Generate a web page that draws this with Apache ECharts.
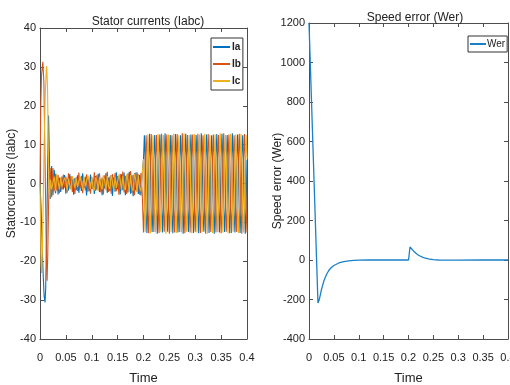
<!DOCTYPE html>
<html>
<head>
<meta charset="utf-8">
<script src="https://cdn.jsdelivr.net/npm/echarts@6/dist/echarts.min.js"></script>
<style>
  html, body { margin: 0; padding: 0; background: #fff; }
  #chart { width: 510px; height: 385px; }
</style>
</head>
<body>
<div id="chart"></div>
<script>
// x tick labels (shared by both plots)
const timeTicks = [0, 0.05, 0.1, 0.15, 0.2, 0.25, 0.3, 0.35, 0.4];

// start-up transient, [time, current]
const iaStart = [[0, 0], [0.002, -6], [0.004, -15], [0.006, -23], [0.008, -29], [0.0097, -30.6],
  [0.011, -27], [0.013, -12], [0.015, 6], [0.0165, 17.5], [0.018, 8], [0.0195, -3]];
const ibStart = [[0, 0], [0.0015, 20], [0.003, 28], [0.0055, 31.3], [0.0075, 26], [0.009, 12],
  [0.011, -6], [0.0125, -20], [0.0137, -25], [0.015, -18], [0.0165, -6], [0.018, 2], [0.0195, 4]];
const icStart = [[0, 0], [0.001, -10], [0.002, -20], [0.003, -23], [0.0045, -18], [0.006, -6],
  [0.008, 10], [0.01, 22], [0.012, 29], [0.013, 30.2], [0.0145, 25], [0.016, 10], [0.0175, -2],
  [0.019, -4]];

// low-load ripple, sampled every rippleStep from rippleStart
const rippleStart = 0.02;
const rippleStep = 0.0025;
const iaRipple = [-4, 4.5, -3, 3.5, -2.5, 2, -2.8, 1.5, -2.2, 1.8,
  -1.5, 2.2, -2.6, 1.2, -1.8, 2.4, -1.2, 1.6, -2.9, 1.4,
  -1.7, 2.1, -2.4, 0.8, -1.9, 2.6, -1.1, 1.7, -3.1, 1.3,
  -2.0, 2.3, -1.4, 1.0, -2.7, 1.9, -1.6, 2.5, -2.2, 1.1,
  -3.0, 1.8, -1.3, 2.7, -2.4, 1.5, -1.9, 2.2, -3.2, 1.6,
  -2.1, 2.9, -1.5, 1.9, -2.8, 2.4, -1.7, 2.8, -3.0, 1.7,
  -2.3, 3.0, -2.6, 2.1, -3.3, 2.6, -1.8, 2.9, -2.7, 2.2, -3.1, 2.5];
const ibRipple = [3, -3.5, 4, -2, 2.5, -1.8, 2.2, -2.5, 1.4, -1.6,
  2.3, -1.1, 1.8, -2.4, 2.6, -1.3, 1.9, -2.2, 1.2, -2.7,
  1.6, -1.9, 2.8, -1.2, 2.0, -2.5, 1.4, -1.8, 2.4, -2.1,
  1.1, -2.6, 1.7, -1.5, 2.9, -1.9, 2.2, -1.2, 2.6, -2.3,
  1.5, -2.8, 2.1, -1.6, 3.0, -2.2, 1.8, -2.6, 2.4, -1.4,
  2.7, -2.0, 1.9, -2.9, 2.5, -1.7, 3.1, -2.3, 2.0, -2.7,
  2.6, -1.8, 3.2, -2.5, 2.2, -3.0, 2.8, -2.1, 2.4, -2.9, 2.7, -2.4];
const icRipple = [1, -1.5, -1, 1.8, -2, 2.5, 0.5, -1.5, 1.6, -0.8,
  -1.2, 1.5, 0.6, -1.8, 1.3, -0.5, -1.6, 1.9, 0.8, -1.2,
  1.4, -0.9, -1.3, 1.7, 0.4, -1.6, 1.8, -0.7, -1.1, 2.0,
  0.9, -1.4, 1.5, -1.0, -1.8, 1.6, 0.6, -1.9, 1.7, -0.6,
  -1.5, 2.1, 0.7, -1.7, 1.9, -0.8, -1.4, 2.2, 0.5, -2.0,
  1.8, -1.1, -1.6, 2.3, 0.9, -1.8, 2.0, -0.9, -1.7, 2.4,
  0.8, -2.1, 2.2, -1.2, -1.9, 2.5, 1.0, -2.2, 2.1, -1.0, -2.0, 2.3];

// loaded operation after 0.2 s, sampled every steadyStep
const steadyStart = 0.2;
const steadyStep = 0.01 / 6;
const iaSteady = [6.1, 12.4, 6.3, -6.2, -12.7, -6.0, 6.3, 12.8, 6.0, -6.4, -12.5, -6.3,
  6.0, 12.5, 6.2, -6.1, -12.9, -6.2, 6.4, 12.6, 6.1, -6.3, -12.6, -6.0,
  6.2, 12.9, 6.3, -6.0, -12.4, -6.4, 6.1, 12.5, 6.0, -6.2, -12.8, -6.1,
  6.3, 12.7, 6.4, -6.3, -12.6, -6.2, 6.0, 12.4, 6.1, -6.1, -12.9, -6.3,
  6.2, 12.8, 6.2, -6.4, -12.5, -6.0, 6.4, 12.6, 6.0, -6.2, -12.7, -6.2,
  6.1, 12.5, 6.3, -6.0, -12.8, -6.4, 6.3, 12.9, 6.1, -6.3, -12.4, -6.1,
  6.0, 12.6, 6.2, -6.1, -12.7, -6.3, 6.2, 12.4, 6.4, -6.4, -12.9, -6.0,
  6.4, 12.7, 6.0, -6.2, -12.6, -6.2, 6.1, 12.8, 6.3, -6.0, -12.5, -6.4,
  6.3, 12.5, 6.1, -6.3, -12.8, -6.1, 6.0, 12.9, 6.2, -6.1, -12.6, -6.3,
  6.2, 12.6, 6.4, -6.4, -12.7, -6.0, 6.4, 12.4, 6.0, -6.2, -12.9, -6.2];
const ibSteady = [-12.6, -6.1, 6.3, 12.4, 6.2, -6.3, -12.8, -6.3, 6.0, 12.7, 6.1, -6.0,
  -12.5, -6.2, 6.2, 12.5, 6.4, -6.1, -12.7, -6.0, 6.1, 12.8, 6.0, -6.4,
  -12.4, -6.4, 6.3, 12.6, 6.2, -6.2, -12.9, -6.1, 6.0, 12.4, 6.3, -6.0,
  -12.6, -6.3, 6.4, 12.7, 6.1, -6.3, -12.5, -6.0, 6.2, 12.9, 6.0, -6.1,
  -12.8, -6.2, 6.1, 12.5, 6.4, -6.4, -12.6, -6.4, 6.3, 12.6, 6.2, -6.2,
  -12.4, -6.1, 6.0, 12.8, 6.3, -6.0, -12.7, -6.3, 6.2, 12.4, 6.1, -6.3,
  -12.9, -6.0, 6.4, 12.7, 6.0, -6.1, -12.5, -6.2, 6.1, 12.6, 6.4, -6.4,
  -12.6, -6.4, 6.3, 12.5, 6.2, -6.2, -12.8, -6.1, 6.0, 12.9, 6.3, -6.0,
  -12.4, -6.3, 6.2, 12.6, 6.1, -6.3, -12.7, -6.0, 6.4, 12.4, 6.0, -6.1,
  -12.5, -6.2, 6.1, 12.8, 6.4, -6.4, -12.9, -6.4, 6.3, 12.7, 6.2, -6.2];
const icSteady = [6.3, -6.2, -12.5, -6.1, 6.0, 12.6, 6.1, -6.4, -12.8, -6.0, 6.3, 12.4,
  6.2, -6.1, -12.6, -6.3, 6.1, 12.7, 6.0, -6.3, -12.4, -6.2, 6.4, 12.5,
  6.4, -6.0, -12.9, -6.1, 6.2, 12.6, 6.1, -6.2, -12.5, -6.4, 6.0, 12.8,
  6.3, -6.3, -12.7, -6.0, 6.1, 12.4, 6.0, -6.1, -12.6, -6.2, 6.3, 12.9,
  6.2, -6.4, -12.4, -6.3, 6.4, 12.5, 6.4, -6.2, -12.8, -6.1, 6.0, 12.7,
  6.1, -6.0, -12.6, -6.4, 6.2, 12.6, 6.3, -6.3, -12.5, -6.0, 6.1, 12.8,
  6.0, -6.2, -12.9, -6.2, 6.4, 12.4, 6.2, -6.1, -12.7, -6.3, 6.0, 12.6,
  6.4, -6.4, -12.5, -6.1, 6.3, 12.9, 6.1, -6.0, -12.6, -6.4, 6.2, 12.5,
  6.3, -6.3, -12.8, -6.2, 6.0, 12.7, 6.0, -6.2, -12.4, -6.0, 6.4, 12.6,
  6.2, -6.1, -12.7, -6.3, 6.1, 12.8, 6.4, -6.4, -12.6, -6.1, 6.3, 12.5];

// speed error, [time, rad/s]
const werPoints = [[0, 1200], [0.018, -218], [0.02, -205], [0.022, -185], [0.025, -150],
  [0.03, -105], [0.035, -75], [0.04, -52], [0.045, -38], [0.05, -28], [0.06, -15], [0.07, -8],
  [0.08, -4], [0.09, -2], [0.1, -1], [0.12, 0], [0.15, 0], [0.2, 0], [0.201, 20], [0.203, 66],
  [0.206, 58], [0.21, 46], [0.215, 34], [0.22, 24], [0.23, 12], [0.24, 6], [0.25, 2],
  [0.26, 0], [0.3, -1], [0.35, 0], [0.4, 0]];

const phaseNames = ["Ia", "Ib", "Ic"];
const phaseColors = ["#0072BD", "#D95319", "#EDB120"];

// no condensed face here, so the squeezed MATLAB text is approximated with smaller sizes
const narrow = "'Liberation Sans Narrow', 'Liberation Sans', sans-serif";
const regular = "'Liberation Sans', Arial, sans-serif";
const ink = "#222";

// stitch the three pieces of one phase onto the time axis
function buildPhase(start, ripple, steady) {
  const pts = start.slice();
  ripple.forEach((v, i) => pts.push([rippleStart + i * rippleStep, v]));
  steady.forEach((v, i) => pts.push([steadyStart + i * steadyStep, v]));
  pts.push([0.4, steady[0]]);
  return pts;
}

const phases = [
  buildPhase(iaStart, iaRipple, iaSteady),
  buildPhase(ibStart, ibRipple, ibSteady),
  buildPhase(icStart, icRipple, icSteady),
];

function fmtTime(v) {
  return String(+v.toFixed(2));
}

function xAxes(gridIndex) {
  const base = {
    gridIndex,
    type: "value",
    min: timeTicks[0],
    max: timeTicks[timeTicks.length - 1],
    interval: 0.05,
    splitLine: { show: false },
    axisLine: { show: true, onZero: false, lineStyle: { color: "#4d4d4d", width: 1 } },
    axisTick: { inside: true, length: 4, lineStyle: { color: "#4d4d4d" } },
  };
  return [
    {
      ...base,
      position: "bottom",
      name: "Time",
      nameLocation: "middle",
      nameGap: 33,
      nameMoveOverlap: false,
      nameTextStyle: { fontFamily: narrow, fontSize: 13, color: ink },
      axisLabel: { margin: 13, fontFamily: narrow, fontSize: 11, color: ink, formatter: fmtTime },
    },
    { ...base, position: "top", axisLabel: { show: false } },
  ];
}

function yAxes(gridIndex, min, max, interval, name, gap) {
  const base = {
    gridIndex,
    type: "value",
    min,
    max,
    interval,
    splitLine: { show: false },
    axisLine: { show: true, onZero: false, lineStyle: { color: "#4d4d4d", width: 1 } },
    axisTick: { inside: true, length: 4, lineStyle: { color: "#4d4d4d" } },
  };
  return [
    {
      ...base,
      position: "left",
      name,
      nameLocation: "middle",
      nameGap: gap,
      nameMoveOverlap: false,
      nameTextStyle: { fontFamily: regular, fontSize: 12, color: ink },
      axisLabel: { margin: 4, fontFamily: narrow, fontSize: 11, color: ink, formatter: (v) => String(v) },
    },
    { ...base, position: "right", axisLabel: { show: false } },
  ];
}

const chart = echarts.init(document.getElementById("chart"), null, { renderer: "canvas" });

chart.setOption({
  animation: false,
  backgroundColor: "#fff",
  title: [
    {
      text: "Stator currents (Iabc)",
      left: 143, top: 11, textAlign: "center",
      textStyle: { fontFamily: narrow, fontSize: 12, fontWeight: "normal", color: ink },
    },
    {
      text: "Speed error (Wer)",
      left: 410, top: 7, textAlign: "center",
      textStyle: { fontFamily: narrow, fontSize: 12, fontWeight: "normal", color: ink },
    },
  ],
  legend: [
    {
      data: phaseNames,
      orient: "vertical",
      left: 211, top: 38,
      icon: "rect",
      itemWidth: 17, itemHeight: 2, itemGap: 7,
      padding: [4, 2, 4, 2],
      borderColor: "#333", borderWidth: 1,
      backgroundColor: "#fff",
      textStyle: { fontFamily: narrow, fontSize: 10, fontWeight: "bold", color: ink, padding: [0, 0, 0, -3] },
    },
    {
      data: ["Wer"],
      left: 468, top: 36,
      icon: "rect",
      itemWidth: 16, itemHeight: 2,
      padding: [3, 2, 3, 2],
      borderColor: "#333", borderWidth: 1,
      backgroundColor: "#fff",
      textStyle: { fontFamily: narrow, fontSize: 10, color: ink, padding: [0, 0, 0, -4] },
    },
  ],
  grid: [
    { left: 40, top: 28, width: 207, height: 311, outerBoundsMode: "none" },
    { left: 309, top: 23, width: 199, height: 316, outerBoundsMode: "none" },
  ],
  xAxis: [...xAxes(0), ...xAxes(1)],
  yAxis: [
    ...yAxes(0, -40, 40, 10, "Statorcurrents (Iabc)", 22),
    ...yAxes(1, -400, 1200, 200, "Speed error (Wer)", 25),
  ],
  series: [
    ...phases.map((pts, i) => ({
      name: phaseNames[i],
      type: "line",
      xAxisIndex: 0,
      yAxisIndex: 0,
      data: pts,
      showSymbol: false,
      lineStyle: { color: phaseColors[i], width: 1.1 },
      itemStyle: { color: phaseColors[i] },
    })),
    {
      name: "Wer",
      type: "line",
      xAxisIndex: 2,
      yAxisIndex: 2,
      data: werPoints,
      showSymbol: false,
      lineStyle: { color: "#1a80c8", width: 1.3 },
      itemStyle: { color: "#1a80c8" },
    },
  ],
});
</script>
</body>
</html>
